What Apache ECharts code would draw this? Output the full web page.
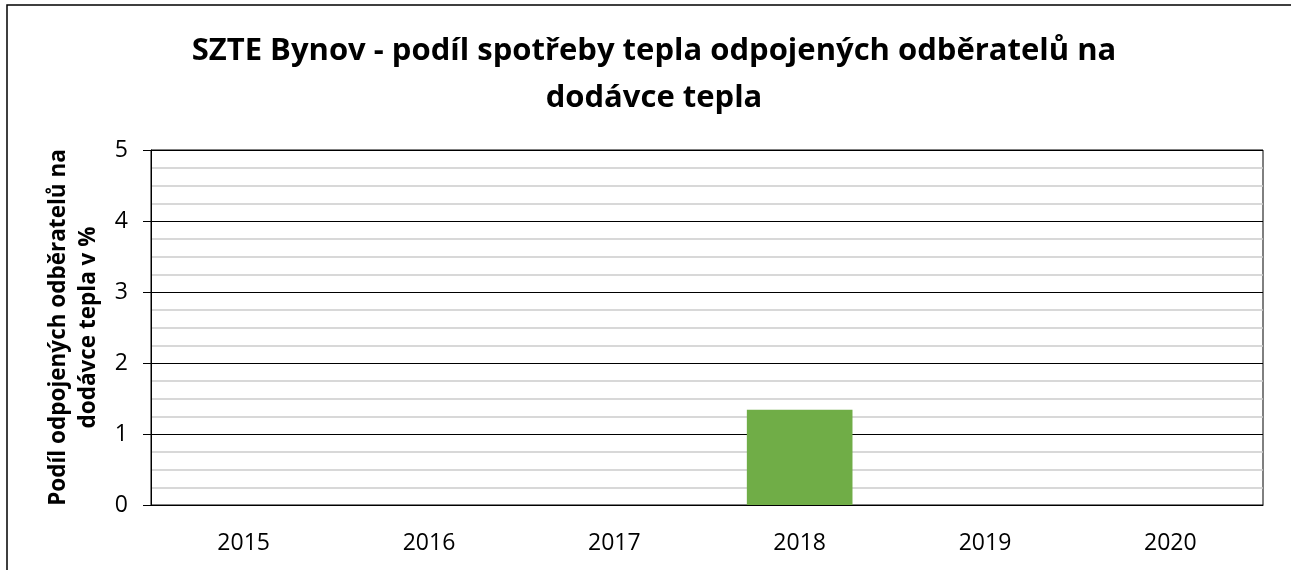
<!DOCTYPE html>
<html>
<head>
<meta charset="utf-8">
<script src="https://cdn.jsdelivr.net/npm/echarts@6/dist/echarts.min.js"></script>
<style>
  html, body { margin: 0; padding: 0; background: #fff; }
  #chart { width: 1291px; height: 570px; }
</style>
</head>
<body>
<div id="chart"></div>
<script>
// values
const years = ['2015', '2016', '2017', '2018', '2019', '2020'];
const shareValues = [0, 0, 0, 1.34, 0, 0];
const yTicks = { min: 0, max: 5, step: 1 };

const titleText = 'SZTE Bynov - podíl spotřeby tepla odpojených odběratelů na\ndodávce tepla';
const yName = 'Podíl odpojených odběratelů na\ndodávce tepla v %';
const fontFamily = 'Open Sans, Liberation Sans, sans-serif';

const chart = echarts.init(document.getElementById('chart'), null, { renderer: 'canvas' });

chart.setOption({
    animation: false,
    title: {
        text: titleText,
        left: 649,
        top: 23,
        textAlign: 'center',
        textStyle: {
            fontFamily: fontFamily,
            fontWeight: 'bold',
            fontSize: 31,
            lineHeight: 47,
            color: '#000'
        }
    },
    graphic: [{
        type: 'rect',
        shape: { x: 7, y: 5, width: 1400, height: 700 },
        style: { fill: 'none', stroke: '#000', lineWidth: 1.5 },
        silent: true
    }],
    grid: {
        left: 151,
        right: 28,
        top: 150,
        bottom: 65,
        show: true,
        borderColor: '#000',
        borderWidth: 1
    },
    xAxis: {
        type: 'category',
        data: years,
        axisLine: { lineStyle: { color: '#000', width: 1 } },
        axisTick: { show: false },
        axisLabel: { fontFamily: fontFamily, fontSize: 23, color: '#000', margin: 27 }
    },
    yAxis: {
        type: 'value',
        min: yTicks.min,
        max: yTicks.max,
        interval: yTicks.step,
        name: yName,
        nameLocation: 'middle',
        nameGap: 44,
        nameTextStyle: {
            fontFamily: fontFamily,
            fontWeight: 'bold',
            fontSize: 22.5,
            lineHeight: 30,
            color: '#000'
        },
        axisLine: { show: true, lineStyle: { color: '#000', width: 1 } },
        axisTick: { show: true, length: 8, lineStyle: { color: '#000' } },
        axisLabel: { fontFamily: fontFamily, fontSize: 23, color: '#000', margin: 23 },
        splitLine: { show: true, lineStyle: { color: '#000', width: 1 } },
        minorTick: { show: false, splitNumber: 4 },
        minorSplitLine: { show: true, lineStyle: { color: '#cccccc', width: 1.5 } }
    },
    series: [{
        type: 'bar',
        data: shareValues,
        barCategoryGap: '43%',
        itemStyle: { color: '#70ad47' }
    }]
});
</script>
</body>
</html>
